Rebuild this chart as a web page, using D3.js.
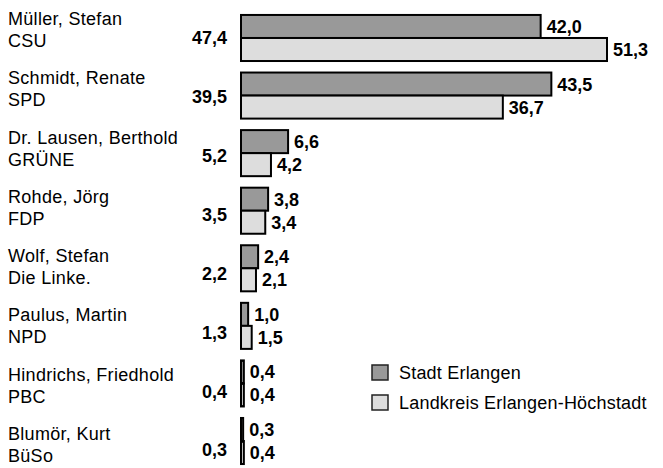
<!DOCTYPE html>
<html>
<head>
<meta charset="utf-8">
<script src="https://cdn.jsdelivr.net/npm/d3@7"></script>
<style>
  html, body { margin: 0; padding: 0; background: #fff; }
  svg { display: block; font-family: "Liberation Sans", Arial, sans-serif; }
</style>
</head>
<body>
<svg id="chart" width="663" height="468"></svg>
<script>
// ---- data ----
const candidates = ["Müller, Stefan", "Schmidt, Renate", "Dr. Lausen, Berthold", "Rohde, Jörg",
                    "Wolf, Stefan", "Paulus, Martin", "Hindrichs, Friedhold", "Blumör, Kurt"];
const parties = ["CSU", "SPD", "GRÜNE", "FDP", "Die Linke.", "NPD", "PBC", "BüSo"];
const totals = [47.4, 39.5, 5.2, 3.5, 2.2, 1.3, 0.4, 0.3];
const stadtErlangen = [42.0, 43.5, 6.6, 3.8, 2.4, 1.0, 0.4, 0.3];
const landkreisErlangenHoechstadt = [51.3, 36.7, 4.2, 3.4, 2.1, 1.5, 0.4, 0.4];
const seriesNames = ["Stadt Erlangen", "Landkreis Erlangen-Höchstadt"];
const seriesColors = ["#999999", "#dddddd"];

const fmt = v => d3.format(".1f")(v).replace(".", ",");

const svg = d3.select("#chart");
const idx = d3.range(candidates.length);

// scales
const x = d3.scaleLinear()
  .domain([0, d3.max(landkreisErlangenHoechstadt.concat(stadtErlangen))])
  .range([241, 607]);

const y = d3.scaleBand().domain(idx).range([9.2, 469.8]).paddingInner(0.2).paddingOuter(0.1);
const ySub = d3.scaleBand().domain([0, 1]).range([0, y.bandwidth()]);
const yName = d3.scalePoint().domain(idx).range([25, 440]);
const yTotal = d3.scalePoint().domain(idx).range([38, 450]);

const series = [stadtErlangen, landkreisErlangenHoechstadt];

// bars
const groups = svg.selectAll("g.grp").data(idx).join("g")
  .attr("class", "grp")
  .attr("transform", i => `translate(0,${y(i)})`);

series.forEach((vals, s) => {
  groups.append("rect")
    .attr("x", x(0))
    .attr("y", ySub(s))
    .attr("width", i => x(vals[i]) - x(0))
    .attr("height", ySub.bandwidth())
    .attr("fill", seriesColors[s])
    .attr("stroke", "#000")
    .attr("stroke-width", 2);
});
series.forEach((vals, s) => {
  groups.append("text")
    .attr("x", i => x(vals[i]) + 6)
    .attr("y", ySub(s) + ySub.bandwidth() / 2)
    .attr("dy", "0.36em")
    .attr("font-size", 18)
    .attr("font-weight", "bold")
    .attr("fill", "#000")
    .text(i => fmt(vals[i]));
});

// names
const names = svg.selectAll("text.name").data(idx).join("text")
  .attr("class", "name")
  .attr("x", 8)
  .attr("y", i => yName(i))
  .attr("font-size", 18)
  .attr("letter-spacing", 0.3)
  .attr("fill", "#000");
names.append("tspan").attr("x", 8).text(i => candidates[i]);
names.append("tspan").attr("x", 8).attr("dy", 22).text(i => parties[i]);

// totals
svg.selectAll("text.total").data(idx).join("text")
  .attr("class", "total")
  .attr("x", 227)
  .attr("y", i => yTotal(i))
  .attr("dy", "0.36em")
  .attr("text-anchor", "end")
  .attr("font-size", 18)
  .attr("font-weight", "bold")
  .attr("fill", "#000")
  .text(i => fmt(totals[i]));

// legend
const yLeg = d3.scalePoint().domain([0, 1]).range([372.5, 402.5]);
const leg = svg.selectAll("g.leg").data([0, 1]).join("g")
  .attr("class", "leg")
  .attr("transform", s => `translate(372,${yLeg(s)})`);
leg.append("rect")
  .attr("x", 0).attr("y", -7.5).attr("width", 16).attr("height", 15)
  .attr("fill", s => seriesColors[s])
  .attr("stroke", "#222").attr("stroke-width", 1.5);
leg.append("text")
  .attr("x", 27).attr("y", 0).attr("dy", "0.36em")
  .attr("font-size", 18).attr("letter-spacing", 0.2).attr("fill", "#000")
  .text(s => seriesNames[s]);
</script>
</body>
</html>
